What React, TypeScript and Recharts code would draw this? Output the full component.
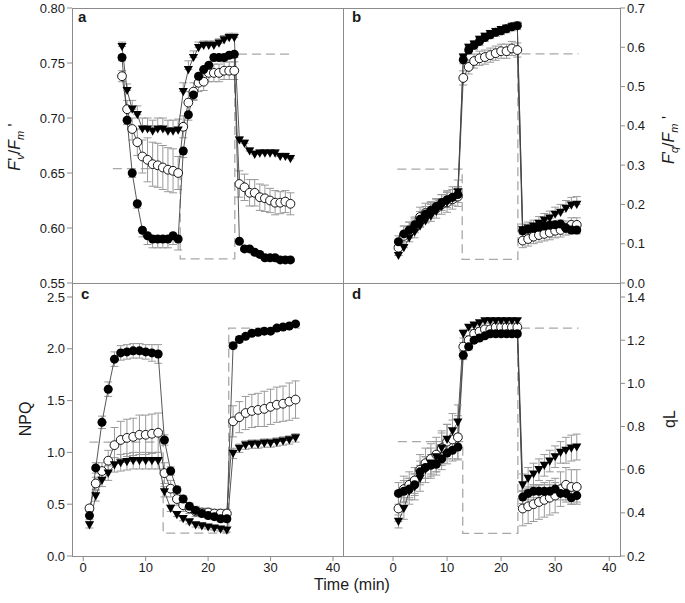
import React from "react";
import { ComposedChart, Line, XAxis, YAxis, ErrorBar } from "recharts";

const FONT = "Arial, 'Liberation Sans', Helvetica, sans-serif";
const INK = "#1a1a1a";
const FRAME = "#8c8c8c";
const ERR = "#9a9a9a";

// time points (min)
const TIME = [
  1, 2, 3, 4, 5, 6, 7, 8, 9, 10, 11, 12, 13, 14, 15, 16, 17, 18, 19, 20, 21, 22, 23,
  24, 25, 26, 27, 28, 29, 30, 31, 32, 33, 34,
];
const X_TICKS = [0, 10, 20, 30, 40];

// a: Fv'/Fm'
const A_FILLED = [0.755, 0.698, 0.65, 0.622, 0.598, 0.593, 0.59, 0.59, 0.59, 0.59, 0.593, 0.59,
  0.67, 0.703, 0.721, 0.738, 0.744, 0.748, 0.755, 0.755, 0.755, 0.757, 0.758,
  0.588, 0.581, 0.581, 0.578, 0.576, 0.573, 0.573, 0.573, 0.571, 0.571, 0.571];
const A_OPEN = [0.738, 0.708, 0.69, 0.678, 0.665, 0.662, 0.658, 0.657, 0.655, 0.653, 0.652, 0.65,
  0.692, 0.714, 0.724, 0.732, 0.733, 0.741, 0.741, 0.741, 0.743, 0.743, 0.743,
  0.64, 0.637, 0.632, 0.632, 0.628, 0.627, 0.625, 0.623, 0.623, 0.624, 0.622];
const A_TRI = [0.765, 0.725, 0.708, 0.703, 0.69, 0.69, 0.688, 0.69, 0.69, 0.688, 0.688, 0.689,
  0.724, 0.744, 0.755, 0.764, 0.766, 0.766, 0.766, 0.768, 0.771, 0.773, 0.773,
  0.68, 0.677, 0.67, 0.667, 0.668, 0.668, 0.668, 0.668, 0.665, 0.665, 0.663];
const A_FILLED_ERR = [0.003, 0.004, 0.004, 0.004, 0.006, 0.008, 0.008, 0.008, 0.008, 0.008, 0.008, 0.01,
  0.006, 0.005, 0.004, 0.004, 0.004, 0.004, 0.003, 0.003, 0.003, 0.003, 0.003,
  0.002, 0.002, 0.002, 0.002, 0.002, 0.002, 0.002, 0.002, 0.002, 0.002, 0.002];
const A_OPEN_ERR = [0.005, 0.008, 0.01, 0.012, 0.015, 0.02, 0.02, 0.02, 0.02, 0.02, 0.02, 0.015,
  0.01, 0.01, 0.008, 0.008, 0.008, 0.008, 0.008, 0.008, 0.008, 0.008, 0.008,
  0.012, 0.012, 0.012, 0.012, 0.012, 0.012, 0.011, 0.011, 0.01, 0.01, 0.01];
const A_TRI_ERR = [0.004, 0.006, 0.008, 0.008, 0.01, 0.01, 0.01, 0.01, 0.01, 0.01, 0.01, 0.01,
  0.008, 0.008, 0.006, 0.005, 0.004, 0.004, 0.004, 0.004, 0.004, 0.004, 0.004,
  0.003, 0.003, 0.003, 0.003, 0.003, 0.003, 0.003, 0.003, 0.003, 0.003, 0.003];
const A_MODEL_T = [-0.8, 12.4, 12.4, 23.1, 23.1, 34.4];
const A_MODEL = [0.654, 0.654, 0.572, 0.572, 0.758, 0.758];

// b: Fq'/Fm'
const B_FILLED = [0.105, 0.125, 0.135, 0.148, 0.162, 0.175, 0.185, 0.195, 0.205, 0.212, 0.218, 0.225,
  0.568, 0.593, 0.605, 0.615, 0.625, 0.632, 0.638, 0.642, 0.647, 0.652, 0.655,
  0.133, 0.137, 0.14, 0.142, 0.145, 0.147, 0.148, 0.15, 0.14, 0.135, 0.135];
const B_OPEN = [0.09, 0.12, 0.13, 0.14, 0.168, 0.178, 0.182, 0.19, 0.2, 0.205, 0.213, 0.22,
  0.522, 0.55, 0.565, 0.572, 0.575, 0.58, 0.585, 0.59, 0.59, 0.597, 0.593,
  0.108, 0.112, 0.118, 0.122, 0.125, 0.128, 0.133, 0.135, 0.14, 0.148, 0.148];
const B_TRI = [0.07, 0.09, 0.115, 0.13, 0.145, 0.158, 0.17, 0.182, 0.195, 0.205, 0.215, 0.232,
  0.575, 0.6, 0.608, 0.62, 0.628, 0.635, 0.64, 0.645, 0.648, 0.652, 0.653,
  0.135, 0.14, 0.145, 0.152, 0.16, 0.165, 0.175, 0.18, 0.19, 0.198, 0.2];
const B_FILLED_ERR = [0.015, 0.02, 0.02, 0.02, 0.02, 0.02, 0.02, 0.02, 0.02, 0.02, 0.02, 0.02,
  0.01, 0.01, 0.01, 0.01, 0.01, 0.01, 0.01, 0.01, 0.01, 0.01, 0.01,
  0.01, 0.01, 0.01, 0.01, 0.01, 0.01, 0.01, 0.01, 0.01, 0.01, 0.01];
const B_OPEN_ERR = [0.02, 0.025, 0.025, 0.025, 0.025, 0.025, 0.025, 0.025, 0.025, 0.025, 0.025, 0.025,
  0.018, 0.018, 0.018, 0.018, 0.018, 0.018, 0.018, 0.018, 0.018, 0.018, 0.018,
  0.018, 0.018, 0.018, 0.018, 0.018, 0.018, 0.018, 0.018, 0.018, 0.018, 0.018];
const B_TRI_ERR = [0.025, 0.03, 0.03, 0.03, 0.03, 0.03, 0.03, 0.03, 0.03, 0.03, 0.03, 0.03,
  0.008, 0.008, 0.008, 0.008, 0.008, 0.008, 0.008, 0.008, 0.008, 0.008, 0.008,
  0.015, 0.015, 0.015, 0.017, 0.017, 0.018, 0.018, 0.02, 0.02, 0.02, 0.02];
const B_MODEL_T = [0.8, 12.8, 12.8, 23.1, 23.1, 34.3];
const B_MODEL = [0.29, 0.29, 0.06, 0.06, 0.583, 0.583];

// c: NPQ
const C_FILLED = [0.39, 0.85, 1.29, 1.61, 1.9, 1.96, 1.97, 1.98, 1.98, 1.97, 1.96, 1.95,
  1.12, 0.82, 0.64, 0.55, 0.48, 0.44, 0.41, 0.39, 0.38, 0.36, 0.36,
  2.03, 2.09, 2.12, 2.15, 2.16, 2.17, 2.17, 2.2, 2.21, 2.22, 2.24];
const C_OPEN = [0.46, 0.7, 0.82, 0.92, 1.07, 1.12, 1.14, 1.15, 1.17, 1.17, 1.18, 1.19,
  0.8, 0.65, 0.55, 0.49, 0.46, 0.43, 0.42, 0.42, 0.41, 0.41, 0.41,
  1.3, 1.34, 1.38, 1.4, 1.41, 1.42, 1.44, 1.46, 1.47, 1.49, 1.51];
const C_TRI = [0.3, 0.58, 0.73, 0.8, 0.88, 0.9, 0.91, 0.92, 0.92, 0.92, 0.92, 0.92,
  0.62, 0.46, 0.4, 0.36, 0.33, 0.3, 0.29, 0.28, 0.27, 0.26, 0.25,
  0.99, 1.04, 1.07, 1.08, 1.08, 1.09, 1.09, 1.1, 1.11, 1.12, 1.14];
const C_FILLED_ERR = [0.04, 0.05, 0.06, 0.07, 0.07, 0.07, 0.07, 0.07, 0.07, 0.07, 0.08, 0.09,
  0.05, 0.04, 0.03, 0.03, 0.03, 0.03, 0.03, 0.03, 0.03, 0.03, 0.03,
  0.03, 0.03, 0.02, 0.02, 0.02, 0.02, 0.02, 0.02, 0.02, 0.02, 0.02];
const C_OPEN_ERR = [0.03, 0.06, 0.08, 0.1, 0.17, 0.18, 0.18, 0.18, 0.19, 0.19, 0.19, 0.19,
  0.1, 0.08, 0.06, 0.06, 0.05, 0.05, 0.04, 0.04, 0.04, 0.04, 0.04,
  0.15, 0.15, 0.16, 0.16, 0.16, 0.17, 0.17, 0.17, 0.17, 0.18, 0.18];
const C_TRI_ERR = [0.03, 0.05, 0.06, 0.07, 0.07, 0.08, 0.08, 0.08, 0.08, 0.08, 0.08, 0.08,
  0.05, 0.03, 0.02, 0.02, 0.02, 0.02, 0.02, 0.02, 0.02, 0.02, 0.02,
  0.05, 0.04, 0.04, 0.04, 0.04, 0.04, 0.04, 0.04, 0.04, 0.04, 0.04];
const C_MODEL_T = [1, 12.8, 12.8, 23.3, 23.3, 34.7];
const C_MODEL = [1.1, 1.1, 0.22, 0.22, 2.2, 2.2];

// d: qL
const D_FILLED = [0.49, 0.5, 0.51, 0.53, 0.59, 0.61, 0.62, 0.625, 0.65, 0.677, 0.69, 0.705,
  1.13, 1.17, 1.2, 1.21, 1.22, 1.23, 1.23, 1.23, 1.23, 1.23, 1.23,
  0.473, 0.49, 0.5, 0.5, 0.5, 0.5, 0.51, 0.49, 0.49, 0.47, 0.48];
const D_OPEN = [0.42, 0.51, 0.53, 0.55, 0.6, 0.63, 0.65, 0.67, 0.7, 0.73, 0.74, 0.75,
  1.17, 1.2, 1.23, 1.24, 1.25, 1.25, 1.26, 1.26, 1.26, 1.26, 1.26,
  0.42, 0.43, 0.44, 0.45, 0.46, 0.47, 0.48, 0.51, 0.53, 0.52, 0.52];
const D_TRI = [0.36, 0.42, 0.5, 0.52, 0.56, 0.6, 0.63, 0.66, 0.7, 0.74, 0.78, 0.82,
  1.23, 1.26, 1.27, 1.28, 1.29, 1.29, 1.29, 1.29, 1.29, 1.29, 1.29,
  0.53, 0.56, 0.58, 0.6, 0.62, 0.64, 0.66, 0.68, 0.69, 0.7, 0.705];
const D_FILLED_ERR = [0.05, 0.05, 0.05, 0.05, 0.05, 0.05, 0.05, 0.05, 0.05, 0.05, 0.05, 0.06,
  0.02, 0.015, 0.01, 0.01, 0.01, 0.01, 0.01, 0.01, 0.01, 0.01, 0.01,
  0.03, 0.03, 0.03, 0.03, 0.03, 0.03, 0.03, 0.03, 0.03, 0.03, 0.03];
const D_OPEN_ERR = [0.06, 0.06, 0.06, 0.06, 0.07, 0.07, 0.07, 0.08, 0.08, 0.08, 0.09, 0.1,
  0.02, 0.02, 0.015, 0.01, 0.01, 0.01, 0.01, 0.01, 0.01, 0.01, 0.01,
  0.08, 0.08, 0.08, 0.08, 0.08, 0.08, 0.08, 0.08, 0.08, 0.08, 0.08];
const D_TRI_ERR = [0.03, 0.05, 0.06, 0.06, 0.06, 0.06, 0.07, 0.07, 0.07, 0.07, 0.08, 0.08,
  0.02, 0.01, 0.01, 0.01, 0.01, 0.01, 0.01, 0.01, 0.01, 0.01, 0.01,
  0.05, 0.05, 0.05, 0.05, 0.05, 0.05, 0.05, 0.05, 0.06, 0.06, 0.06];
const D_MODEL_T = [0.9, 12.9, 12.9, 23.1, 23.1, 34.3];
const D_MODEL = [0.73, 0.73, 0.305, 0.305, 1.256, 1.256];

type Dir = "up" | "down" | "both";
const bar = (e: number, d: Dir) => (d === "up" ? [0, e] : d === "down" ? [e, 0] : [e, e]);

function makeRows(f: number[], o: number[], v: number[], fe: number[], oe: number[], ve: number[], dirs: Dir[]) {
  return TIME.map((t, i) => ({
    t,
    f: f[i],
    o: o[i],
    v: v[i],
    fe: bar(fe[i], dirs[0]),
    oe: bar(oe[i], dirs[1]),
    ve: bar(ve[i], dirs[2]),
  }));
}
const makeModel = (ts: number[], ms: number[]) => ts.map((t, i) => ({ t, m: ms[i] }));

const filledDot = (p: any) =>
  p.cx == null || p.cy == null ? null : (
    <circle key={`f${p.index}`} cx={p.cx} cy={p.cy} r={4.5} fill="#000" />
  );
const openDot = (p: any) =>
  p.cx == null || p.cy == null ? null : (
    <circle key={`o${p.index}`} cx={p.cx} cy={p.cy} r={4.4} fill="#fff" stroke="#000" strokeWidth={0.9} />
  );
const triDot = (p: any) =>
  p.cx == null || p.cy == null ? null : (
    <path
      key={`v${p.index}`}
      d={`M${p.cx - 4.6},${p.cy - 3.6}L${p.cx + 4.6},${p.cy - 3.6}L${p.cx},${p.cy + 4.6}Z`}
      fill="#000"
    />
  );

type PanelProps = {
  rows: any[];
  model: any[];
  xDomain: [number, number];
  yDomain: [number, number];
  yTicks: number[];
  digits: number;
  side: "left" | "right";
  bottom: boolean;
  auxTicks?: boolean;
  left: number;
  top: number;
  width: number;
  height: number;
};

function Panel(p: PanelProps) {
  const isLeft = p.side === "left";
  return (
    <div style={{ position: "absolute", left: p.left, top: p.top }}>
      <ComposedChart
        width={p.width}
        height={p.height}
        data={p.rows}
        margin={{ top: 8, right: 0, bottom: p.bottom ? 0 : 12, left: isLeft ? 0 : 10 }}
        style={{ fontFamily: FONT }}
      >
        <XAxis
          type="number"
          dataKey="t"
          domain={p.xDomain}
          allowDataOverflow
          ticks={X_TICKS}
          interval={0}
          axisLine={false}
          tickLine={{ stroke: FRAME }}
          tickSize={5}
          mirror={!p.bottom}
          height={p.bottom ? 30 : 0}
          tick={{ fill: INK, fontSize: 13 }}
          tickFormatter={(v: number) => (p.bottom ? String(v) : "")}
        />
        <YAxis
          yAxisId="y"
          type="number"
          orientation={p.side}
          domain={p.yDomain}
          allowDataOverflow
          ticks={p.yTicks}
          interval={0}
          width={isLeft ? 72 : 60}
          axisLine={false}
          tickLine={{ stroke: FRAME }}
          tickSize={5}
          tick={{ fill: INK, fontSize: 13 }}
          tickFormatter={(v: number) => v.toFixed(p.digits)}
        />
        {p.auxTicks && (
          <YAxis
            yAxisId="aux"
            type="number"
            orientation="left"
            domain={p.yDomain}
            allowDataOverflow
            ticks={p.yTicks}
            interval={0}
            width={0}
            axisLine={false}
            tickLine={{ stroke: FRAME }}
            tickSize={5}
            tickFormatter={() => ""}
          />
        )}
        <Line
          yAxisId="y"
          data={p.model}
          dataKey="m"
          stroke="#a8a8a8"
          strokeWidth={1.3}
          strokeDasharray="9 5"
          dot={false}
          isAnimationActive={false}
        />
        <Line yAxisId="y" dataKey="o" stroke="#444" strokeWidth={0.9} dot={openDot} isAnimationActive={false}>
          <ErrorBar dataKey="oe" direction="y" width={4} stroke={ERR} strokeWidth={1} />
        </Line>
        <Line yAxisId="y" dataKey="f" stroke="#444" strokeWidth={0.9} dot={filledDot} isAnimationActive={false}>
          <ErrorBar dataKey="fe" direction="y" width={4} stroke={ERR} strokeWidth={1} />
        </Line>
        <Line yAxisId="y" dataKey="v" stroke="#444" strokeWidth={0.9} dot={triDot} isAnimationActive={false}>
          <ErrorBar dataKey="ve" direction="y" width={4} stroke={ERR} strokeWidth={1} />
        </Line>
      </ComposedChart>
    </div>
  );
}

const rowsA = makeRows(A_FILLED, A_OPEN, A_TRI, A_FILLED_ERR, A_OPEN_ERR, A_TRI_ERR, ["down", "both", "up"]);
const rowsB = makeRows(B_FILLED, B_OPEN, B_TRI, B_FILLED_ERR, B_OPEN_ERR, B_TRI_ERR, ["both", "both", "up"]);
const rowsC = makeRows(C_FILLED, C_OPEN, C_TRI, C_FILLED_ERR, C_OPEN_ERR, C_TRI_ERR, ["both", "both", "both"]);
const rowsD = makeRows(D_FILLED, D_OPEN, D_TRI, D_FILLED_ERR, D_OPEN_ERR, D_TRI_ERR, ["both", "both", "both"]);

export default function App() {
  return (
    <div style={{ position: "absolute", left: 0, top: 0, width: 685, height: 603, background: "#fff", fontFamily: FONT }}>
      <svg width={685} height={603} style={{ position: "absolute", left: 0, top: 0 }}>
        <g fill="none" stroke={FRAME} strokeWidth={1}>
          <rect x={72.5} y={8.5} width={548} height={548} />
          <line x1={343.5} y1={8} x2={343.5} y2={556} />
          <line x1={72} y1={283.5} x2={620} y2={283.5} />
        </g>
      </svg>

      <Panel rows={rowsA} model={makeModel(A_MODEL_T, A_MODEL)} xDomain={[-8.8, 44.3]} yDomain={[0.55, 0.8]}
        yTicks={[0.55, 0.6, 0.65, 0.7, 0.75, 0.8]} digits={2} side="left" bottom={false}
        left={0} top={0} width={343} height={295} />
      <Panel rows={rowsB} model={makeModel(B_MODEL_T, B_MODEL)} xDomain={[-9.26, 42.0]} yDomain={[0, 0.7]}
        yTicks={[0, 0.1, 0.2, 0.3, 0.4, 0.5, 0.6, 0.7]} digits={1} side="right" bottom={false} auxTicks
        left={333} top={0} width={347} height={295} />
      <Panel rows={rowsC} model={makeModel(C_MODEL_T, C_MODEL)} xDomain={[-1.8, 41.6]} yDomain={[0, 2.635]}
        yTicks={[0, 0.5, 1, 1.5, 2, 2.5]} digits={1} side="left" bottom
        left={0} top={275} width={343} height={311} />
      <Panel rows={rowsD} model={makeModel(D_MODEL_T, D_MODEL)} xDomain={[-9.26, 42.0]} yDomain={[0.2, 1.465]}
        yTicks={[0.2, 0.4, 0.6, 0.8, 1.0, 1.2, 1.4]} digits={1} side="right" bottom
        left={333} top={275} width={347} height={311} />

      <svg width={685} height={603} style={{ position: "absolute", left: 0, top: 0, pointerEvents: "none" }}
        fontFamily={FONT} fill={INK}>
        <g fontWeight="bold" fontSize={15}>
          <text x={78} y={22}>a</text>
          <text x={352} y={22}>b</text>
          <text x={81} y={299}>c</text>
          <text x={352} y={299}>d</text>
        </g>
        <text transform="translate(20,147) rotate(-90)" textAnchor="middle" fontSize={16}>
          <tspan fontStyle="italic">F</tspan>
          <tspan>'</tspan>
          <tspan fontStyle="italic" fontSize={11} dx={-2} dy={4}>v</tspan>
          <tspan dy={-4}>/</tspan>
          <tspan fontStyle="italic">F</tspan>
          <tspan fontStyle="italic" fontSize={11} dy={4}>m</tspan>
          <tspan dy={-4}> '</tspan>
        </text>
        <text transform="translate(674,140) rotate(-90)" textAnchor="middle" fontSize={16}>
          <tspan fontStyle="italic">F</tspan>
          <tspan>'</tspan>
          <tspan fontStyle="italic" fontSize={11} dx={-2} dy={4}>q</tspan>
          <tspan dy={-4}>/</tspan>
          <tspan fontStyle="italic">F</tspan>
          <tspan fontStyle="italic" fontSize={11} dy={4}>m</tspan>
          <tspan dy={-4}> '</tspan>
        </text>
        <text transform="translate(31,419) rotate(-90)" textAnchor="middle" fontSize={16}>NPQ</text>
        <text transform="translate(675,419) rotate(-90)" textAnchor="middle" fontSize={16}>qL</text>
        <text x={352} y={590} textAnchor="middle" fontSize={16}>Time (min)</text>
      </svg>
    </div>
  );
}
